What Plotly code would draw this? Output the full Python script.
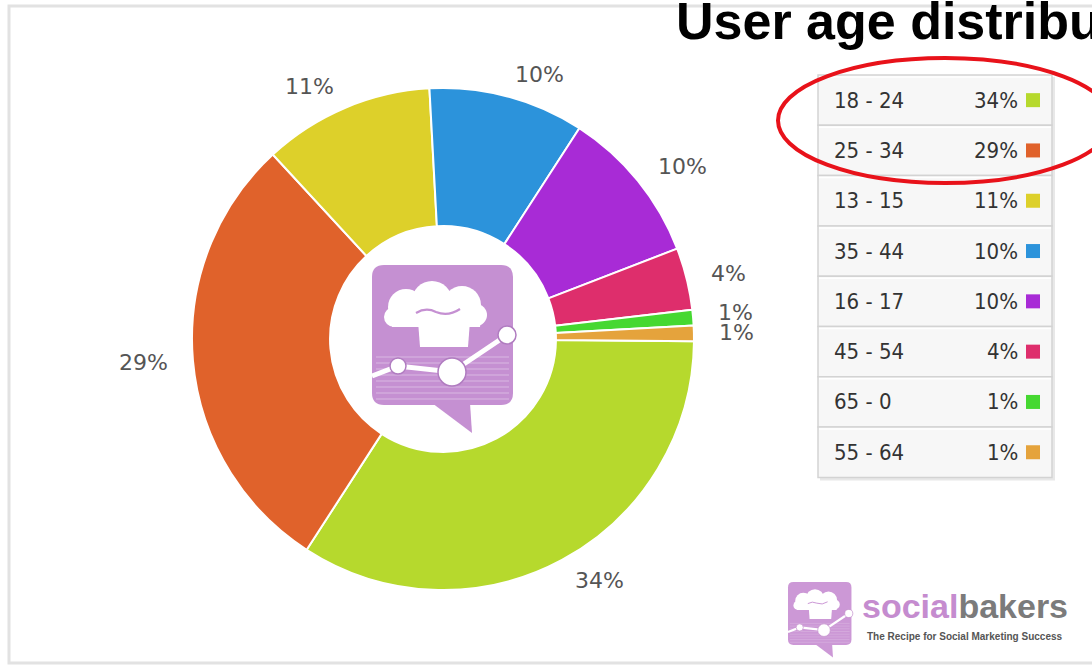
import math
import plotly.graph_objects as go

# ---------------- data ----------------
age_groups = ["18 - 24", "25 - 34", "13 - 15", "35 - 44", "16 - 17", "45 - 54", "65 - 0", "55 - 64"]
shares = [34, 29, 11, 10, 10, 4, 1, 1]
slice_colors = ["#b6d92d", "#e0622b", "#ddd02a", "#2c93db", "#a82bd6", "#de2e6c", "#46d831", "#e5a33c"]
title_text = "User age distribution"
brand_a = "social"
brand_b = "bakers"
tagline = "The Recipe for Social Marketing Success"

# ---------------- geometry helpers ----------------
W, H = 1092, 672


def px(x):
    return x / W


def py(y):
    return 1 - y / H


cx, cy, R = 443, 339, 251
hole = 0.45
rotation = 90.5

fig = go.Figure()
fig.add_trace(go.Pie(
    values=shares, labels=age_groups,
    marker=dict(colors=slice_colors, line=dict(color="white", width=2)),
    hole=hole, sort=False, direction="clockwise", rotation=rotation,
    textinfo="none", hoverinfo="label+percent", showlegend=False,
    domain=dict(x=[px(cx - R), px(cx + R)], y=[py(cy + R), py(cy - R)]),
))

shapes = []
annotations = []

# chart frame
shapes.append(dict(type="rect", xref="paper", yref="paper", x0=px(9), x1=px(1100), y0=py(663), y1=py(6),
                   line=dict(color="#e2e2e2", width=3), layer="below"))

# slice labels: vertical position from the slice's mid angle, horizontal position on a
# label circle, anchored on the side facing the pie; labels too close are pushed apart
total = sum(shares)
cum = 0
label_r = 274
min_gap = 20
labels_pos = []
for v in shares:
    mid = (cum + v / 2) / total * 360 + (rotation - 90)
    cum += v
    a = math.radians(mid)
    ly = cy + label_r * math.sin(a)
    right = math.cos(a) >= 0
    labels_pos.append([v, ly, right])

for side in (True, False):
    idx = sorted([i for i, p in enumerate(labels_pos) if p[2] == side], key=lambda i: labels_pos[i][1],
                 reverse=True)
    for k in range(1, len(idx)):
        lower = labels_pos[idx[k - 1]]
        upper = labels_pos[idx[k]]
        if lower[1] - upper[1] < min_gap:
            upper[1] = lower[1] - min_gap

for v, ly, right in labels_pos:
    dy = ly - cy
    dx = math.sqrt(max(label_r ** 2 - dy ** 2, 0))
    lx = cx + dx if right else cx - dx
    annotations.append(dict(x=px(lx), y=py(ly), xref="paper", yref="paper", text=f"{v}%", showarrow=False,
                            font=dict(family="DejaVu Sans", size=22, color="#555555"),
                            xanchor="left" if right else "right", yanchor="middle"))


# ---------------- logo drawing ----------------
def logo(ox, oy, s, fill, ring):
    def X(x):
        return px(ox + x * s)

    def Y(y):
        return py(oy + y * s)

    def path(pts, close=True):
        d = "M " + " L ".join(f"{X(a)},{Y(b)}" for a, b in pts)
        return d + (" Z" if close else "")

    w, h, r = 141, 140, 12
    d = (f"M {X(r)},{Y(0)} L {X(w - r)},{Y(0)} Q {X(w)},{Y(0)} {X(w)},{Y(r)} "
         f"L {X(w)},{Y(h - r)} Q {X(w)},{Y(h)} {X(w - r)},{Y(h)} L {X(r)},{Y(h)} "
         f"Q {X(0)},{Y(h)} {X(0)},{Y(h - r)} L {X(0)},{Y(r)} Q {X(0)},{Y(0)} {X(r)},{Y(0)} Z")
    shapes.append(dict(type="path", xref="paper", yref="paper", path=d, fillcolor=fill, line=dict(width=0)))
    # tail
    shapes.append(dict(type="path", xref="paper", yref="paper", path=path([(60, 138), (98, 138), (100, 168)]),
                       fillcolor=fill, line=dict(width=0)))
    # chef hat
    for (ccx, ccy, rr) in [(34, 42, 18), (60, 36, 20), (90, 40, 19), (104, 50, 11), (22, 52, 10)]:
        shapes.append(dict(type="circle", xref="paper", yref="paper", x0=X(ccx - rr), x1=X(ccx + rr),
                           y0=Y(ccy + rr), y1=Y(ccy - rr), fillcolor="white", line=dict(width=0)))
    shapes.append(dict(type="path", xref="paper", yref="paper",
                       path=path([(20, 44), (110, 44), (108, 62), (20, 62)]), fillcolor="white", line=dict(width=0)))
    shapes.append(dict(type="path", xref="paper", yref="paper",
                       path=path([(46, 56), (98, 56), (96, 82), (48, 82)]), fillcolor="white", line=dict(width=0)))
    # squiggle on the hat
    sq = (f"M {X(44)},{Y(48)} Q {X(54)},{Y(42)} {X(64)},{Y(47)} Q {X(76)},{Y(52)} {X(88)},{Y(44)}")
    shapes.append(dict(type="path", xref="paper", yref="paper", path=sq,
                       line=dict(color=fill, width=max(1, 2.2 * s))))
    # faint stripes in the lower part of the bubble
    for yy in range(92, 136, 6):
        shapes.append(dict(type="line", xref="paper", yref="paper", x0=X(4), x1=X(137), y0=Y(yy), y1=Y(yy),
                           line=dict(color="rgba(255,255,255,0.18)", width=max(0.5, 2 * s))))
    # chart line
    shapes.append(dict(type="path", xref="paper", yref="paper",
                       path=path([(0, 111), (26, 101), (80, 107), (135, 70)], close=False),
                       line=dict(color="white", width=max(1.5, 5 * s))))
    for (ccx, ccy, rr) in [(26, 101, 8), (80, 107, 14), (135, 70, 9)]:
        shapes.append(dict(type="circle", xref="paper", yref="paper", x0=X(ccx - rr), x1=X(ccx + rr),
                           y0=Y(ccy + rr), y1=Y(ccy - rr), fillcolor="white",
                           line=dict(color=ring, width=max(0.5, 1.5 * s))))


logo(372, 265, 1.0, "#c590d2", "#b07cc0")
logo(788, 582, 0.45, "#cc98d6", "#c08ac9")

# brand text
annotations.append(dict(x=px(860), y=py(606), xref="paper", yref="paper", showarrow=False,
                        xanchor="left", yanchor="middle",
                        text=f"<b><span style='color:#c58ccf'>{brand_a}</span><span style='color:#7b7b7b'>{brand_b}</span></b>",
                        font=dict(family="Liberation Sans", size=34)))
annotations.append(dict(x=px(865), y=py(636), xref="paper", yref="paper", showarrow=False,
                        xanchor="left", yanchor="middle", text=f"<b>{tagline}</b>",
                        font=dict(family="Liberation Sans Narrow, Liberation Sans", size=10, color="#555555")))

# ---------------- legend table ----------------
row_top, row_h = 75, 50.3
t_left, t_right = 818, 1052
n = len(age_groups)
# shadow
shapes.append(dict(type="rect", xref="paper", yref="paper", x0=px(t_left + 2), x1=px(t_right + 3),
                   y0=py(row_top + n * row_h + 3), y1=py(row_top + 2), fillcolor="#e8e8e8", line=dict(width=0)))
for i, (g, v, c) in enumerate(zip(age_groups, shares, slice_colors)):
    y0 = row_top + i * row_h
    y1 = y0 + row_h
    ym = (y0 + y1) / 2
    shapes.append(dict(type="rect", xref="paper", yref="paper", x0=px(t_left), x1=px(t_right),
                       y0=py(y1), y1=py(y0), fillcolor="#f7f7f7", line=dict(color="#d3d3d3", width=1.5)))
    shapes.append(dict(type="line", xref="paper", yref="paper", x0=px(t_left + 1), x1=px(t_right - 1),
                       y0=py(y0 + 2), y1=py(y0 + 2), line=dict(color="#ffffff", width=1.5)))
    annotations.append(dict(x=px(832), y=py(ym), xref="paper", yref="paper", text=g, showarrow=False,
                            xanchor="left", yanchor="middle",
                            font=dict(family="DejaVu Sans Condensed, DejaVu Sans", size=22, color="#333333")))
    annotations.append(dict(x=px(1020), y=py(ym), xref="paper", yref="paper", text=f"{v}%", showarrow=False,
                            xanchor="right", yanchor="middle",
                            font=dict(family="DejaVu Sans Condensed, DejaVu Sans", size=22, color="#333333")))
    shapes.append(dict(type="rect", xref="paper", yref="paper", x0=px(1026), x1=px(1040),
                       y0=py(ym + 7), y1=py(ym - 7), fillcolor=c, line=dict(width=0)))

# red highlight ellipse around the top two rows
shapes.append(dict(type="circle", xref="paper", yref="paper", x0=px(778), x1=px(1112), y0=py(183), y1=py(58),
                   line=dict(color="#e8121a", width=4), fillcolor="rgba(0,0,0,0)"))

# title (cut off at the right edge, as in the reference)
annotations.append(dict(x=px(674), y=py(21), xref="paper", yref="paper", text=f"<b>{title_text}</b>",
                        showarrow=False, xanchor="left", yanchor="middle",
                        font=dict(family="Liberation Sans", size=52, color="#000000")))

fig.update_layout(
    width=W, height=H, margin=dict(l=0, r=0, t=0, b=0),
    paper_bgcolor="white", plot_bgcolor="white",
    shapes=shapes, annotations=annotations,
)

fig.write_html("out.html", config={"displayModeBar": False},
               post_script="document.body.style.margin='0';document.body.style.overflow='hidden';")
